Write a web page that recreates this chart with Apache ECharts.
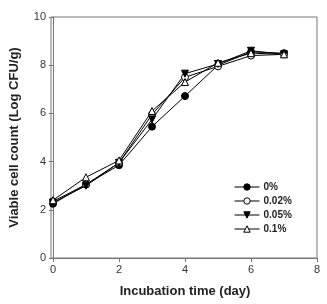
<!DOCTYPE html>
<html>
<head>
<meta charset="utf-8">
<script src="https://cdn.jsdelivr.net/npm/echarts@6/dist/echarts.min.js"></script>
<style>
    html, body { margin: 0; padding: 0; background: #fff; }
    #chart { width: 327px; height: 304px; }
</style>
</head>
<body>
<div id="chart"></div>
<script>
    // 数据
    var days = [0, 1, 2, 3, 4, 5, 6, 7];
    var seriesNames = ['0%', '0.02%', '0.05%', '0.1%'];
    var c0 = [2.25, 3.05, 3.85, 5.45, 6.72, 8.0, 8.55, 8.5];
    var c002 = [2.35, 3.05, 3.95, 5.95, 7.5, 7.95, 8.4, 8.45];
    var c005 = [2.3, 3.0, 3.95, 5.75, 7.65, 8.05, 8.6, 8.45];
    var c01 = [2.4, 3.35, 4.05, 6.1, 7.3, 8.1, 8.5, 8.45];

    function pairs(vals) {
        return days.map(function(d, i) { return [d, vals[i]]; });
    }

    var font = 'Liberation Sans, Arial, sans-serif';
    var axisGrey = '#777';

    // 系列
    function makeSeries(name, vals, symbol, fill, rotate) {
        return {
            name: name,
            type: 'line',
            data: pairs(vals),
            symbol: symbol,
            symbolSize: 7,
            symbolRotate: rotate || 0,
            lineStyle: { color: '#000', width: 1 },
            itemStyle: { color: fill, borderColor: '#000', borderWidth: 1 },
            emphasis: { disabled: true }
        };
    }

    var chart = echarts.init(document.getElementById('chart'));
    var option = {
        animation: false,
        grid: { left: 51, top: 17, right: 10, bottom: 46 },
        legend: {
            orient: 'vertical',
            left: 229,
            top: 177,
            itemWidth: 25,
            itemHeight: 8,
            itemGap: 4,
            itemStyle: { borderWidth: 1 },
            lineStyle: { width: 1 },
            textStyle: { fontFamily: font, fontSize: 10, fontWeight: 'bold', color: '#222', padding: [0, 0, 0, -1] },
            data: seriesNames
        },
        xAxis: {
            type: 'value',
            min: 0, max: 8, interval: 2,
            name: 'Incubation time (day)',
            nameLocation: 'middle',
            nameGap: 27,
            nameTextStyle: { fontFamily: font, fontSize: 13, fontWeight: 'bold', color: '#222' },
            axisLine: { show: true, lineStyle: { color: axisGrey } },
            axisTick: { show: true, length: 4, lineStyle: { color: axisGrey } },
            axisLabel: { fontFamily: font, fontSize: 11, color: '#333', margin: 6 },
            splitLine: { show: false }
        },
        yAxis: {
            type: 'value',
            min: 0, max: 10, interval: 2,
            name: 'Viable cell count (Log CFU/g)',
            nameLocation: 'middle',
            nameGap: 32,
            nameTextStyle: { fontFamily: font, fontSize: 13, fontWeight: 'bold', color: '#222' },
            axisLine: { show: true, lineStyle: { color: axisGrey } },
            axisTick: { show: true, length: 4, lineStyle: { color: axisGrey } },
            axisLabel: { fontFamily: font, fontSize: 11, color: '#333', margin: 7 },
            splitLine: { show: false }
        },
        series: [
            makeSeries(seriesNames[0], c0, 'circle', '#000'),
            makeSeries(seriesNames[1], c002, 'circle', '#fff'),
            makeSeries(seriesNames[2], c005, 'triangle', '#000', 180),
            makeSeries(seriesNames[3], c01, 'triangle', '#fff')
        ],
        graphic: [{
            // 外框
            type: 'rect',
            shape: { x: 51, y: 17, width: 266, height: 241 },
            style: { fill: 'none', stroke: axisGrey, lineWidth: 1 },
            silent: true,
            z: -1
        }]
    };
    chart.setOption(option);
</script>
</body>
</html>
